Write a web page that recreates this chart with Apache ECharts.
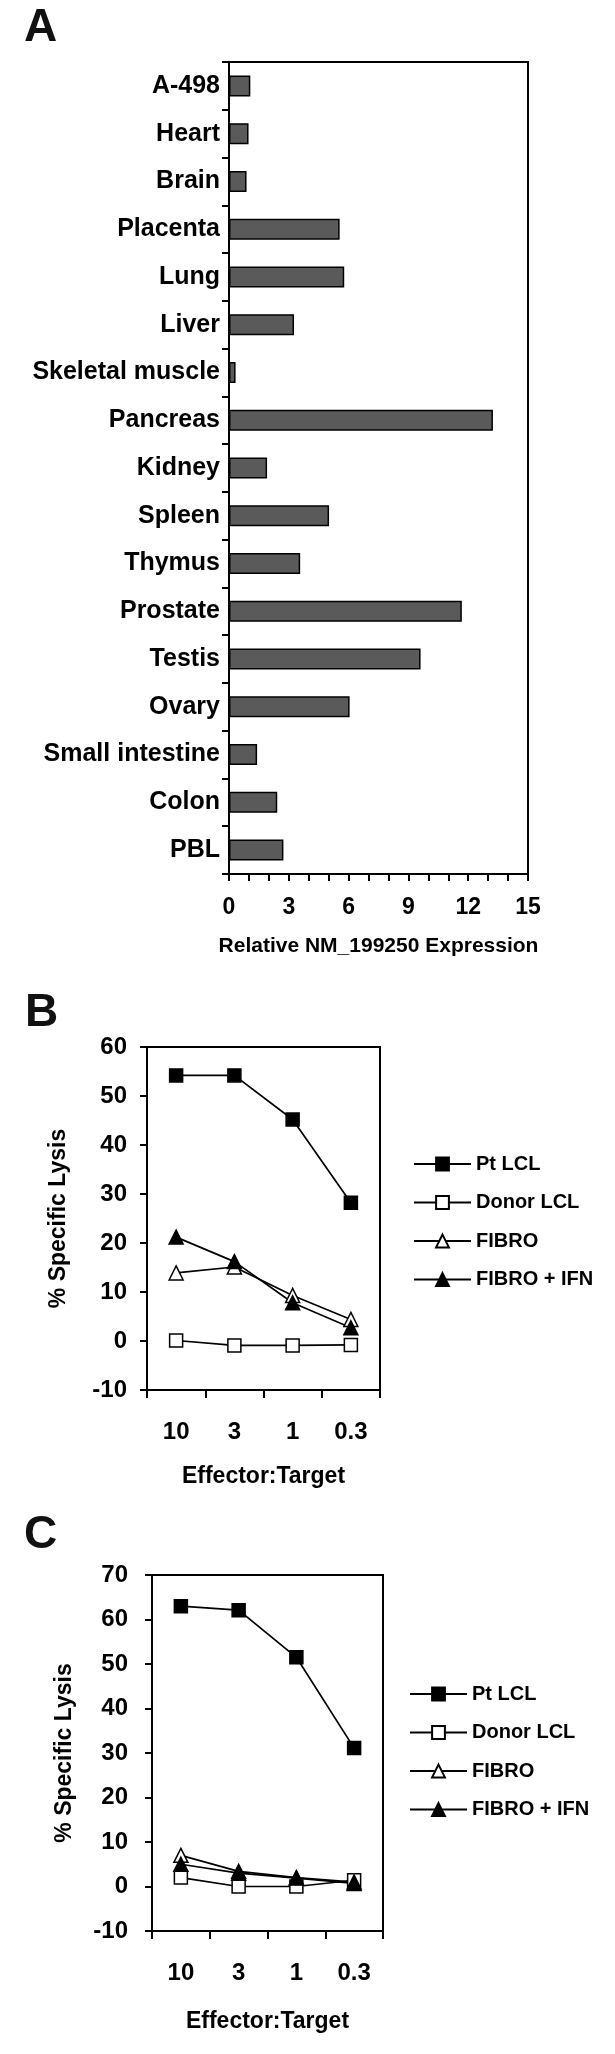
<!DOCTYPE html>
<html>
<head>
<meta charset="utf-8">
<script src="https://cdn.jsdelivr.net/npm/echarts@6/dist/echarts.min.js"></script>
<style>
html,body{margin:0;padding:0;background:#fff;}
#chart{width:615px;height:2054px;}
</style>
</head>
<body>
<div id="chart"></div>
<script>
// ---- Data ----
const tissues = ['A-498','Heart','Brain','Placenta','Lung','Liver','Skeletal muscle','Pancreas','Kidney','Spleen','Thymus','Prostate','Testis','Ovary','Small intestine','Colon','PBL'];
const expression = [1.07, 0.98, 0.88, 5.55, 5.78, 3.26, 0.33, 13.24, 1.91, 5.02, 3.57, 11.68, 9.61, 6.05, 1.41, 2.42, 2.73];
const expressionTicks = [0, 3, 6, 9, 12, 15];

const ratioLabels = ['10', '3', '1', '0.3'];
const seriesNames = ['Pt LCL', 'Donor LCL', 'FIBRO', 'FIBRO + IFN'];

const bPtLCL = [54.2, 54.2, 45.2, 28.2];
const bDonorLCL = [0.1, -0.9, -0.9, -0.8];
const bFibro = [13.9, 15.1, 9.3, 4.4];
const bFibroIFN = [21.2, 16.2, 7.8, 2.7];

const cPtLCL = [63.0, 62.1, 51.5, 31.1];
const cDonorLCL = [2.0, 0.0, 0.0, 1.4];
const cFibro = [7.0, 3.4, 2.0, 1.0];
const cFibroIFN = [5.0, 3.0, 1.9, 0.7];

// ---- Styles ----
const FONT = '"Liberation Sans", Arial, Helvetica, sans-serif';
const BLACK = '#000';
const symbolStyles = [
  { symbol: 'rect', fill: BLACK },
  { symbol: 'rect', fill: '#fff' },
  { symbol: 'triangle', fill: '#fff' },
  { symbol: 'triangle', fill: BLACK }
];

function lineSeries(name, data, axisIdx, i) {
  const st = symbolStyles[i];
  return {
    type: 'line', name: name, data: data,
    xAxisIndex: axisIdx, yAxisIndex: axisIdx,
    symbol: st.symbol, symbolSize: st.symbol === 'rect' ? 13 : 14,
    showAllSymbol: true,
    lineStyle: { color: BLACK, width: 1.7 },
    itemStyle: { color: st.fill, borderColor: BLACK, borderWidth: 1.5 },
    emphasis: { disabled: true },
    animation: false
  };
}

function catAxisX(gridIndex, margin, nameGap) {
  return {
    type: 'category', gridIndex: gridIndex, data: ratioLabels,
    name: 'Effector:Target', nameLocation: 'middle', nameGap: nameGap,
    nameTextStyle: { fontFamily: FONT, fontWeight: 'bold', fontSize: 23, color: BLACK },
    axisLine: { onZero: false, lineStyle: { color: BLACK, width: 2 } },
    axisTick: { show: true, length: 8, lineStyle: { color: BLACK, width: 2 } },
    axisLabel: { margin: margin, fontFamily: FONT, fontWeight: 'bold', fontSize: 24, color: BLACK },
    splitLine: { show: false }
  };
}

function valAxisY(gridIndex, min, max, nameGap, labelMargin) {
  return {
    type: 'value', gridIndex: gridIndex, min: min, max: max, interval: 10,
    name: '% Specific Lysis', nameLocation: 'middle', nameGap: nameGap, nameRotate: 90,
    nameTextStyle: { fontFamily: FONT, fontWeight: 'bold', fontSize: 23, color: BLACK },
    axisLine: { show: true, onZero: false, lineStyle: { color: BLACK, width: 2 } },
    axisTick: { show: true, length: 7, lineStyle: { color: BLACK, width: 2 } },
    axisLabel: { margin: labelMargin, fontFamily: FONT, fontWeight: 'bold', fontSize: 24, color: BLACK },
    splitLine: { show: false }
  };
}

function legendAt(left, top) {
  return {
    orient: 'vertical', left: left, top: top,
    data: seriesNames,
    itemWidth: 57, itemHeight: 16, itemGap: 18.5,
    selectedMode: false,
    textStyle: { fontFamily: FONT, fontWeight: 'bold', fontSize: 20, color: BLACK }
  };
}

const letterStyle = { fontFamily: FONT, fontWeight: 'bold', fontSize: 46, color: '#111' };

const option = {
  backgroundColor: '#fff',
  animation: false,
  title: [
    { text: 'A', left: 19, top: 0, textStyle: letterStyle },
    { text: 'B', left: 20, top: 985, textStyle: letterStyle },
    { text: 'C', left: 19, top: 1507, textStyle: letterStyle }
  ],
  grid: [
    { left: 229, top: 62, width: 299, height: 812, show: true, borderColor: BLACK, borderWidth: 2, backgroundColor: 'transparent' },
    { left: 147, top: 1047, width: 233, height: 343, show: true, borderColor: BLACK, borderWidth: 2, backgroundColor: 'transparent' },
    { left: 152, top: 1575, width: 231, height: 356, show: true, borderColor: BLACK, borderWidth: 2, backgroundColor: 'transparent' }
  ],
  legend: [ legendAt(408, 1149), legendAt(404, 1679) ],
  xAxis: [
    {
      type: 'value', gridIndex: 0, min: 0, max: 15, interval: 1,
      name: 'Relative NM_199250 Expression', nameLocation: 'middle', nameGap: 62,
      nameTextStyle: { fontFamily: FONT, fontWeight: 'bold', fontSize: 21, color: BLACK },
      axisLine: { show: true, onZero: false, lineStyle: { color: BLACK, width: 2 } },
      axisTick: { show: true, length: 7, lineStyle: { color: BLACK, width: 2 } },
      axisLabel: {
        margin: 22, fontFamily: FONT, fontWeight: 'bold', fontSize: 23, color: BLACK,
        showMinLabel: true, showMaxLabel: true,
        formatter: function (v) { return expressionTicks.indexOf(v) >= 0 ? String(v) : ''; }
      },
      splitLine: { show: false }
    },
    catAxisX(1, 30, 75),
    catAxisX(2, 30, 79)
  ],
  yAxis: [
    {
      type: 'category', gridIndex: 0, data: tissues, inverse: true,
      axisLine: { show: true, onZero: false, lineStyle: { color: BLACK, width: 2 } },
      axisTick: { show: true, length: 7, lineStyle: { color: BLACK, width: 2 } },
      axisLabel: { margin: 9, fontFamily: FONT, fontWeight: 'bold', fontSize: 25, color: BLACK, padding: [9, 0, 0, 0] },
      splitLine: { show: false }
    },
    valAxisY(1, -10, 60, 77, 20),
    valAxisY(2, -10, 70, 76, 24)
  ],
  series: [
    {
      type: 'bar', name: 'Relative NM_199250 Expression', data: expression,
      xAxisIndex: 0, yAxisIndex: 0, barWidth: 21,
      itemStyle: { color: '#5a5a5a', borderColor: BLACK, borderWidth: 1.5 },
      emphasis: { disabled: true }
    },
    lineSeries(seriesNames[0], bPtLCL, 1, 0),
    lineSeries(seriesNames[1], bDonorLCL, 1, 1),
    lineSeries(seriesNames[2], bFibro, 1, 2),
    lineSeries(seriesNames[3], bFibroIFN, 1, 3),
    lineSeries(seriesNames[0], cPtLCL, 2, 0),
    lineSeries(seriesNames[1], cDonorLCL, 2, 1),
    lineSeries(seriesNames[2], cFibro, 2, 2),
    lineSeries(seriesNames[3], cFibroIFN, 2, 3)
  ]
};

const chart = echarts.init(document.getElementById('chart'), null, { renderer: 'canvas' });
chart.setOption(option);
</script>
</body>
</html>
